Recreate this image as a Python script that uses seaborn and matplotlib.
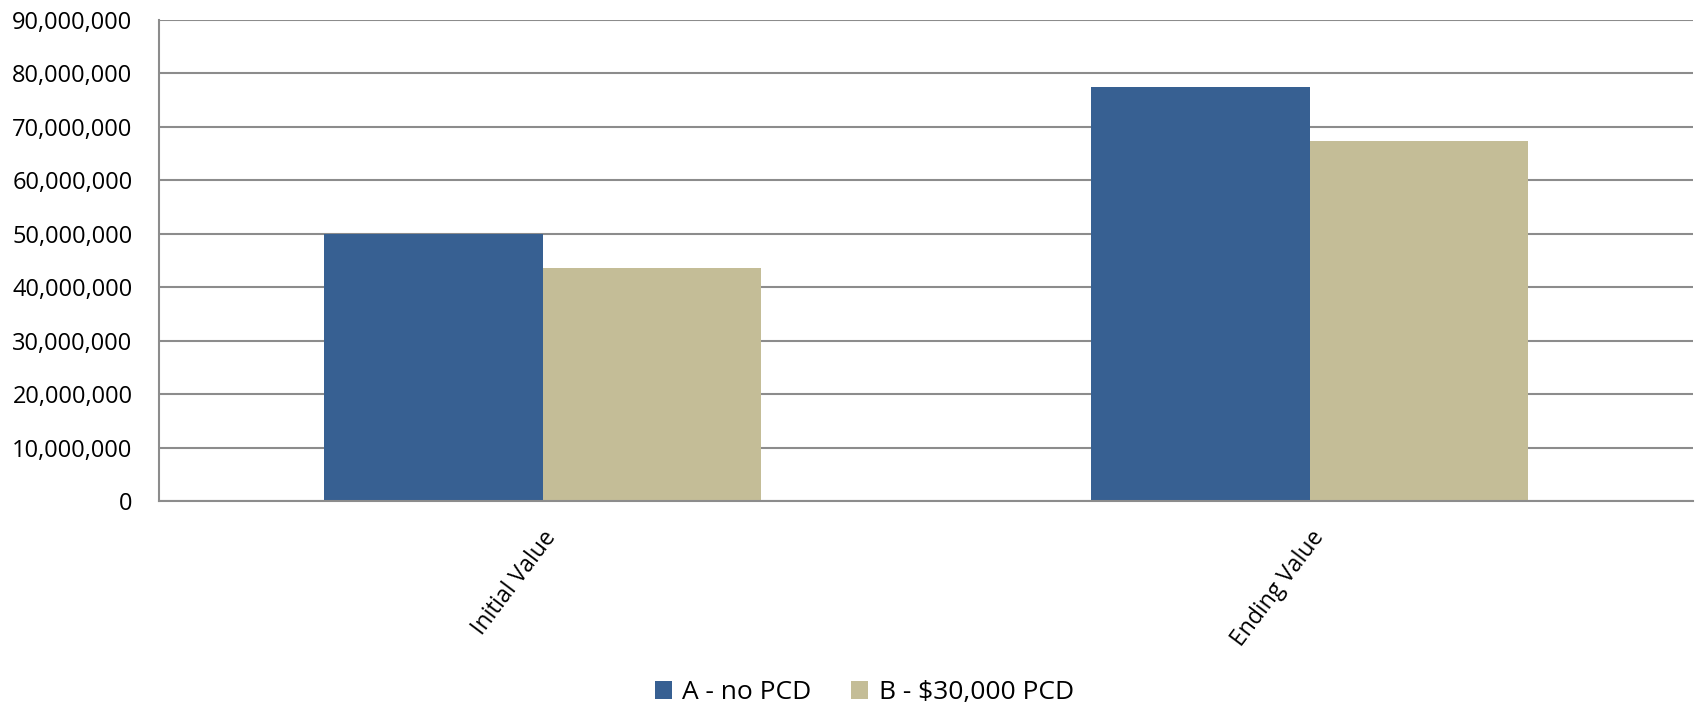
import matplotlib
matplotlib.use("Agg")
import matplotlib.pyplot as plt
import matplotlib.ticker as mticker
from matplotlib.patches import Patch
import pandas as pd
import seaborn as sns

# Portfolio values by scenario
categories = ["Initial Value", "Ending Value"]
series_names = ["A - no PCD", "B - $30,000 PCD"]
values_a = [50_000_000, 77_300_000]
values_b = [43_500_000, 67_300_000]
colors = ["#376092", "#C4BD97"]

df = pd.DataFrame({
    "category": categories * 2,
    "series": [series_names[0]] * 2 + [series_names[1]] * 2,
    "value": values_a + values_b,
})

sns.set_theme(style="white")
plt.rcParams["font.family"] = ["Open Sans", "DejaVu Sans"]

fig = plt.figure(figsize=(16.98, 7.12), dpi=100)
ax = fig.add_axes([0.0936, 0.2963, 0.9036, 0.6763])

sns.barplot(data=df, x="category", y="value", hue="series",
            order=categories, hue_order=series_names,
            palette=colors, width=0.57, gap=0, saturation=1,
            edgecolor="none", linewidth=0, ax=ax, legend=False)

ax.set_ylim(0, 90_000_000)
ax.set_xlim(-0.5, 1.5)
ax.yaxis.set_major_locator(mticker.MultipleLocator(10_000_000))
ax.yaxis.set_major_formatter(mticker.FuncFormatter(lambda v, p: f"{int(v):,}"))
ax.set_axisbelow(True)
ax.yaxis.grid(True, color="#8c8c8c", linewidth=1.5)
ax.set_xlabel("")
ax.set_ylabel("")

for side in ["top", "right"]:
    ax.spines[side].set_visible(False)
for side in ["left", "bottom"]:
    ax.spines[side].set_color("#8c8c8c")
    ax.spines[side].set_linewidth(1.5)

ax.tick_params(axis="y", length=0, pad=19, labelsize=17, labelcolor="#000000")
ax.tick_params(axis="x", length=0, pad=18, labelsize=16.5, labelcolor="#000000")
for lbl in ax.get_xticklabels():
    lbl.set_rotation(53)
    lbl.set_ha("right")
    lbl.set_va("top")
    lbl.set_rotation_mode("anchor")
    lbl.set_x(0)

handles = [Patch(facecolor=c, edgecolor="none") for c in colors]
fig.legend(handles, series_names, loc="center", bbox_to_anchor=(0.509, 0.027),
           ncol=2, frameon=False, fontsize=19, handlelength=0.65,
           handleheight=0.65, handletextpad=0.4, columnspacing=1.5,
           labelcolor="#000000")

fig.savefig("out.png", dpi=100)
